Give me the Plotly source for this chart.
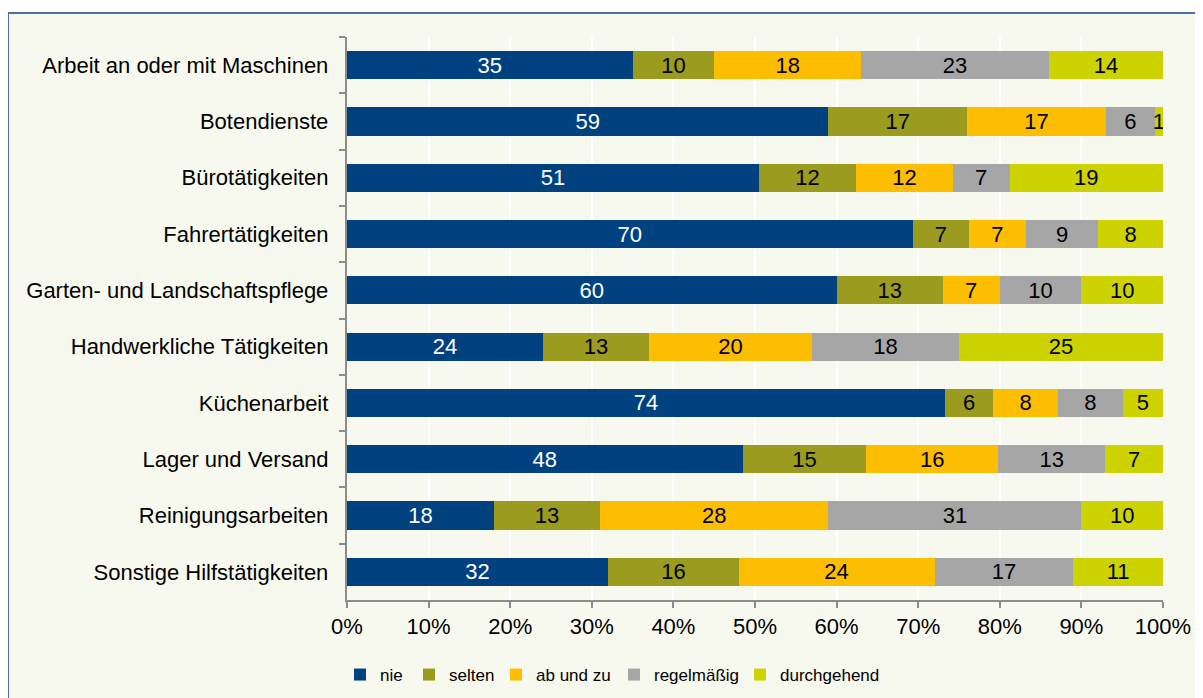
import plotly.graph_objects as go

categories = [
    "Arbeit an oder mit Maschinen",
    "Botendienste",
    "Bürotätigkeiten",
    "Fahrertätigkeiten",
    "Garten- und Landschaftspflege",
    "Handwerkliche Tätigkeiten",
    "Küchenarbeit",
    "Lager und Versand",
    "Reinigungsarbeiten",
    "Sonstige Hilfstätigkeiten",
]
nie = [35, 59, 51, 70, 60, 24, 74, 48, 18, 32]
selten = [10, 17, 12, 7, 13, 13, 6, 15, 13, 16]
ab_und_zu = [18, 17, 12, 7, 7, 20, 8, 16, 28, 24]
regelmaessig = [23, 6, 7, 9, 10, 18, 8, 13, 31, 17]
durchgehend = [14, 1, 19, 8, 10, 25, 5, 7, 10, 11]
x_ticks = [0, 10, 20, 30, 40, 50, 60, 70, 80, 90, 100]
x_tick_labels = [f"{v}%" for v in x_ticks]

series = [
    ("nie", nie, "#00427F", "white"),
    ("selten", selten, "#9A9B1F", "black"),
    ("ab und zu", ab_und_zu, "#FDBD00", "black"),
    ("regelmäßig", regelmaessig, "#A6A6A6", "black"),
    ("durchgehend", durchgehend, "#CDD300", "black"),
]

FONT = "Liberation Sans, Arial, sans-serif"
FS = 22

# page body has an 8px margin; figure origin is at page (8, 8)
W, H = 1195, 690
L, R, T, B = 339, 40, 29, 98
PW, PH = W - L - R, H - T - B
PLOT_X0, PLOT_Y1 = 347, 600  # page px of plot-area left / bottom

# page x of each legend box's left edge
legend_page_x = [340, 409, 496, 614, 740]

fig = go.Figure()
legend_layout = {}
for i, (name, vals, color, tcolor) in enumerate(series):
    lg = "legend" if i == 0 else f"legend{i + 1}"
    fig.add_trace(go.Bar(
        name=name, y=categories, x=vals, orientation="h",
        marker=dict(color=color, line=dict(width=0)),
        text=[str(v) for v in vals], texttemplate="%{text}",
        textposition="inside", insidetextanchor="middle",
        constraintext="none", textangle=0,
        textfont=dict(color=tcolor, size=FS, family=FONT),
        hoverinfo="skip", legend=lg,
    ))
    legend_layout[lg] = dict(
        orientation="h", xref="paper", yref="paper",
        x=(legend_page_x[i] - PLOT_X0) / PW, y=(PLOT_Y1 - 675) / PH,
        xanchor="left", yanchor="middle",
        font=dict(size=17, family=FONT), bgcolor="rgba(0,0,0,0)",
        itemwidth=30,
    )

fig.update_layout(
    barmode="stack", barnorm="percent", bargap=0.5,
    width=W, height=H,
    margin=dict(l=L, r=R, t=T, b=B, autoexpand=False),
    paper_bgcolor="white", plot_bgcolor="#EEECDE",
    font=dict(family=FONT, size=FS, color="black"),
    showlegend=True,
    shapes=[dict(type="rect", xref="paper", yref="paper",
                 x0=-L / PW, x1=1.2, y0=-0.3, y1=1 + (T - 5) / PH,
                 line=dict(color="#4F6FA8", width=2), fillcolor="#F8F9EE",
                 layer="below")],
    **legend_layout,
)
fig.update_xaxes(
    range=[0, 100], tickvals=x_ticks, ticktext=x_tick_labels,
    showgrid=True, gridcolor="white", gridwidth=2,
    showline=True, linecolor="#8C8C8C", linewidth=2,
    ticks="outside", ticklen=6, tickcolor="#8C8C8C", tickwidth=2,
    zeroline=False, tickfont=dict(size=FS), fixedrange=True,
)
fig.update_yaxes(
    autorange="reversed", showgrid=False,
    showline=True, linecolor="#8C8C8C", linewidth=2,
    ticks="outside", ticklen=6, tickcolor="#8C8C8C", tickwidth=2,
    tickson="boundaries", ticksuffix="  ",
    tickfont=dict(size=FS), fixedrange=True,
)

fig.write_html("out.html")
